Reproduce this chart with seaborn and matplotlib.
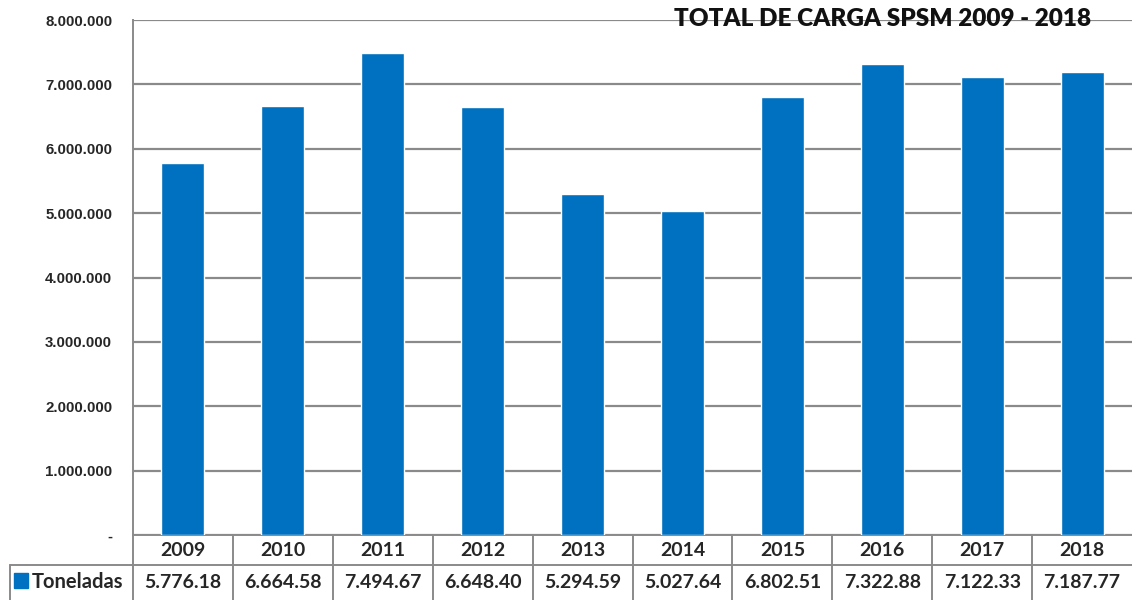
import matplotlib
matplotlib.use("Agg")
import matplotlib.pyplot as plt
from matplotlib.ticker import FuncFormatter
from matplotlib.patches import Rectangle
import seaborn as sns
import pandas as pd

# Annual cargo handled (tonnes)
years = ["2009", "2010", "2011", "2012", "2013", "2014", "2015", "2016", "2017", "2018"]
toneladas = [5776180, 6664580, 7494670, 6648400, 5294590, 5027640, 6802510, 7322880, 7122330, 7187770]
series_name = "Toneladas"
title = "TOTAL DE CARGA SPSM 2009 - 2018"
yticks = [0, 1000000, 2000000, 3000000, 4000000, 5000000, 6000000, 7000000, 8000000]

BAR = "#0070C0"
GRID = "#8a8a8a"
TXT = "#262626"

sns.set_theme(style="white")
plt.rcParams["font.family"] = ["Lato", "DejaVu Sans"]

W, H = 1132, 600
fig = plt.figure(figsize=(W / 100, H / 100), dpi=100)
fig.patch.set_facecolor("white")

# plot area in pixel coordinates
px_left, px_right, px_top, px_bottom = 133, 1132, 20, 535
ax = fig.add_axes([px_left / W, 1 - px_bottom / H,
                   (px_right - px_left) / W, (px_bottom - px_top) / H])

df = pd.DataFrame({"year": years, "ton": toneladas})
sns.barplot(data=df, x="year", y="ton", color=BAR, saturation=1,
            width=0.43, ax=ax, zorder=3)

ax.set_xlim(-0.5, len(years) - 0.5)
ax.set_ylim(0, 8000000)
ax.set_yticks(yticks)


def thousands(v, _pos):
    if v == 0:
        return "-"
    return f"{int(v):,}".replace(",", ".")


ax.yaxis.set_major_formatter(FuncFormatter(thousands))
ax.tick_params(axis="y", length=0, pad=15, labelsize=10.8, labelcolor=TXT)
for lbl in ax.get_yticklabels():
    lbl.set_fontfamily(["Liberation Sans", "DejaVu Sans"])
    lbl.set_fontweight("bold")
ax.tick_params(axis="x", length=0, labelbottom=False)
ax.set_xlabel("")
ax.set_ylabel("")
ax.yaxis.grid(True, color=GRID, linewidth=1.6, zorder=0)
ax.set_axisbelow(True)
for side in ("top", "right"):
    ax.spines[side].set_visible(False)
for side in ("left", "bottom"):
    ax.spines[side].set_color(GRID)
    ax.spines[side].set_linewidth(1.4)

# title sits on the top gridline
fig.text(883 / W, 1 - 19 / H, title, ha="center", va="center",
         fontsize=17.5, fontweight="heavy", color="#111111")

# data table under the plot, sharing the category scale
unit = (px_right - px_left) / len(years)
tab_left = 10
tab = fig.add_axes([tab_left / W, 0, (W - tab_left) / W, (H - px_bottom) / H])
x0 = -0.5 - (px_left - tab_left) / unit
tab.set_xlim(x0, len(years) - 0.5)
tab.set_ylim(H - px_bottom, 0)
tab.axis("off")

row1, row2 = 30, 62
lw = 1.4
tab.plot([-0.5, len(years) - 0.5], [row1, row1], color=GRID, lw=lw, clip_on=False)
tab.plot([x0, -0.5], [row1, row1], color=GRID, lw=lw, clip_on=False)
tab.plot([x0, x0], [row1, 66], color=GRID, lw=lw, clip_on=False)
for i in range(len(years)):
    tab.plot([i - 0.5, i - 0.5], [0, 66], color=GRID, lw=lw, clip_on=False)

for i, (yr, val) in enumerate(zip(years, toneladas)):
    tab.text(i, row1 / 2 + 1, yr, ha="center", va="center",
             fontsize=14, fontweight="bold", color=TXT)
    label = f"{val:,}".replace(",", ".")[:-1]
    tab.text(i, (row1 + row2) / 2 + 1, label, ha="center", va="center",
             fontsize=14, fontweight="bold", color=TXT)

# series key: swatch + name
sw = 14 / unit
tab.add_patch(Rectangle((x0 + 4 / unit, 38), sw, 15, color=BAR, clip_on=False))
tab.text(x0 + 22 / unit, (row1 + row2) / 2 + 1, series_name, ha="left", va="center",
         fontsize=14.5, fontweight="bold", color=TXT)

fig.savefig("out.png", dpi=100, facecolor="white")
